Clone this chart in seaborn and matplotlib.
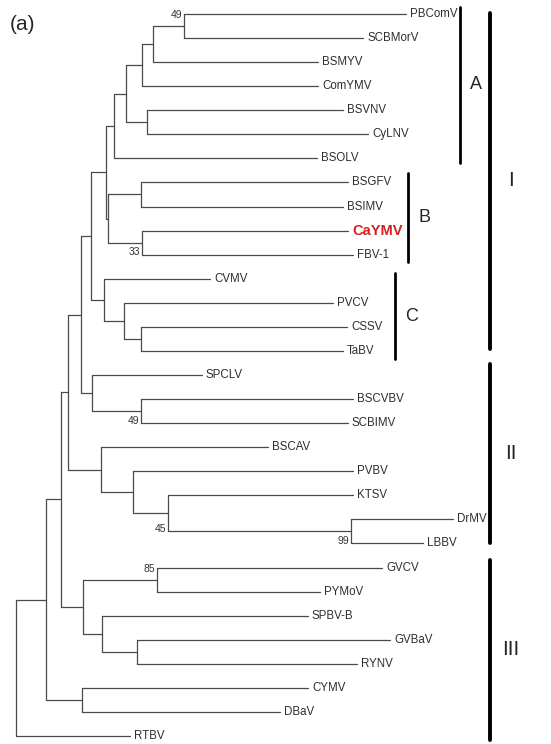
import numpy as np
import pandas as pd
import seaborn as sns
import matplotlib.pyplot as plt

# --- tree data (leaf order top to bottom, tip positions, internal nodes) ---
leaves = ["PBComV", "SCBMorV", "BSMYV", "ComYMV", "BSVNV", "CyLNV", "BSOLV",
          "BSGFV", "BSIMV", "CaYMV", "FBV-1", "CVMV", "PVCV", "CSSV", "TaBV",
          "SPCLV", "BSCVBV", "SCBIMV", "BSCAV", "PVBV", "KTSV", "DrMV", "LBBV",
          "GVCV", "PYMoV", "SPBV-B", "GVBaV", "RYNV", "CYMV", "DBaV", "RTBV"]
tip_x = [406, 363, 318, 318, 343, 368, 317,
         348, 343, 348, 353, 210, 333, 347, 343,
         202, 353, 348, 268, 353, 353, 453, 423,
         382, 320, 308, 390, 357, 308, 280, 130]

# (node, children, depth, bootstrap)
nodes = [
    ("n1", ["PBComV", "SCBMorV"], 184, "49"),
    ("n2", ["n1", "BSMYV"], 153, None),
    ("n3", ["n2", "ComYMV"], 142, None),
    ("n4", ["BSVNV", "CyLNV"], 147, None),
    ("n5", ["n3", "n4"], 126, None),
    ("A", ["n5", "BSOLV"], 114, None),
    ("n6", ["BSGFV", "BSIMV"], 141, None),
    ("n7", ["CaYMV", "FBV-1"], 142, "33"),
    ("B", ["n6", "n7"], 107.5, None),
    ("AB", ["A", "B"], 106, None),
    ("n8", ["CSSV", "TaBV"], 141, None),
    ("n9", ["PVCV", "n8"], 124, None),
    ("C", ["CVMV", "n9"], 104, None),
    ("I", ["AB", "C"], 91, None),
    ("n10", ["BSCVBV", "SCBIMV"], 141, "49"),
    ("n11", ["SPCLV", "n10"], 92, None),
    ("n12", ["I", "n11"], 81, None),
    ("n13", ["DrMV", "LBBV"], 351, "99"),
    ("n14", ["KTSV", "n13"], 168, "45"),
    ("n15", ["PVBV", "n14"], 133, None),
    ("n16", ["BSCAV", "n15"], 101, None),
    ("n17", ["n12", "n16"], 68, None),
    ("n18", ["GVCV", "PYMoV"], 157, "85"),
    ("n19", ["GVBaV", "RYNV"], 137, None),
    ("n20", ["SPBV-B", "n19"], 102, None),
    ("III", ["n18", "n20"], 83, None),
    ("n21", ["n17", "III"], 61, None),
    ("n22", ["CYMV", "DBaV"], 82, None),
    ("n23", ["n21", "n22"], 46, None),
    ("root", ["n23", "RTBV"], 16, None),
]
boot_on_top = ["n1", "n18"]

# bracket groups: label, leaf span, bracket x
sub_groups = ["A", "B", "C"]
sub_span = [(-0.3, 6.2), (6.6, 10.3), (10.75, 14.35)]
sub_x = [460, 408, 395]
main_groups = ["I", "II", "III"]
main_span = [(-0.05, 13.9), (14.55, 22.0), (22.7, 30.15)]
main_x = 490

# --- layout ---
pos = {name: (x, i) for i, (name, x) in enumerate(zip(leaves, tip_x))}
for name, kids, depth, _ in nodes:
    ys = [pos[k][1] for k in kids]
    pos[name] = (depth, (min(ys) + max(ys)) / 2)

rows = []
seg = 0
for name, kids, depth, _ in nodes:
    y0 = min(pos[k][1] for k in kids)
    y1 = max(pos[k][1] for k in kids)
    rows += [(seg, depth, y0), (seg, depth, y1)]
    seg += 1
    for k in kids:
        kx, ky = pos[k]
        rows += [(seg, depth, ky), (seg, kx, ky)]
        seg += 1
segs = pd.DataFrame(rows, columns=["seg", "x", "y"])

sns.set_style("white")
plt.rcParams["font.family"] = ["Liberation Sans Narrow", "Liberation Sans", "DejaVu Sans"]

fig = plt.figure(figsize=(5.51, 7.44), dpi=100)
ax = fig.add_axes([0, 0, 1, 1])
sns.lineplot(data=segs, x="x", y="y", units="seg", estimator=None, sort=False,
             color="#4a4a4a", linewidth=0.9, ax=ax)

for name, x, y in zip(leaves, tip_x, range(len(leaves))):
    if name == "CaYMV":
        ax.text(x + 4, y, name, color="#d62020", fontsize=10.5, fontweight="bold",
                family=["Liberation Sans", "DejaVu Sans"], va="center", ha="left")
    else:
        ax.text(x + 4, y, name, color="#2e2e2e", fontsize=8.3, va="center", ha="left")

for name, kids, depth, boot in nodes:
    if boot is None:
        continue
    top = name in boot_on_top
    ky = pos[kids[0]][1] if top else pos[kids[-1]][1]
    ky += 0.05 if top else -0.1
    ax.text(depth - 2, ky, boot, fontsize=7.5, color="#333333", va="center", ha="right")

for g, (a, b), x in zip(sub_groups, sub_span, sub_x):
    ax.plot([x, x], [a, b], color="black", linewidth=2)
    ax.text(x + 10, (a + b) / 2, g, fontsize=13, family=["Liberation Sans", "DejaVu Sans"],
            va="center", ha="left")
for g, (a, b) in zip(main_groups, main_span):
    ax.plot([main_x, main_x], [a, b], color="black", linewidth=2.8)
    ax.text(main_x + 21, (a + b) / 2, g, fontsize=15, family=["Liberation Sans", "DejaVu Sans"],
            va="center", ha="center")

ax.text(10, 0.45, "(a)", fontsize=15, family=["Liberation Sans", "DejaVu Sans"],
        va="center", ha="left")

px_per_leaf = (736 - 14) / 30
ax.set_xlim(0, 551)
ax.set_ylim(30 + 8 / px_per_leaf, -14 / px_per_leaf)
ax.set_axis_off()

plt.savefig("out.png", dpi=100)
